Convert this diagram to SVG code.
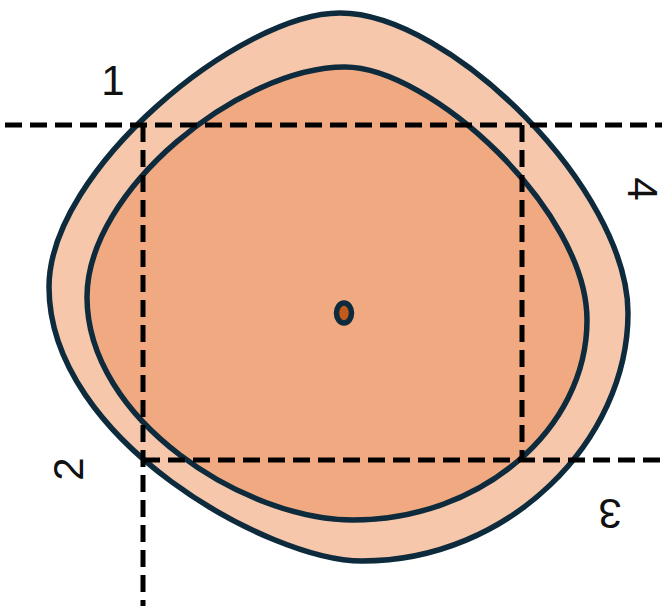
<svg xmlns="http://www.w3.org/2000/svg" width="668" height="611" viewBox="0 0 668 611">
  <style>
    .outline { stroke: #0D2B3C; stroke-width: 5.5; stroke-linejoin: round; }
    .dash { stroke: #000; stroke-width: 5; stroke-dasharray: 17 8; fill: none; }
    .lbl { font-family: "Liberation Sans", Arial, sans-serif; font-size: 42px; fill: #111; text-anchor: middle; }
  </style>
  <rect width="668" height="611" fill="#fff"/>
  <g id="outer-ring">
    <path class="outline" fill="#F6C7AB" d="M340,13 C450,13 628,190 628,313 C628,440 510,561 362,561 C270,561 49,440 49,287 C49,170 240,13 340,13 Z"/>
  </g>
  <g id="inner-region">
    <path class="outline" fill="#F1A982" d="M345,67 C430,67 587,210 587,320 C587,430 480,520 353,520 C245,520 87,420 87,297 C87,190 240,67 345,67 Z"/>
  </g>
  <g id="center-dot">
    <ellipse cx="344" cy="313" rx="7.5" ry="10" fill="#C4591C" class="outline"/>
  </g>
  <g id="connectors">
    <line class="dash" x1="5" y1="125" x2="662" y2="125"/>
    <line class="dash" x1="143" y1="460" x2="666" y2="460"/>
    <line class="dash" x1="143" y1="125" x2="143" y2="606"/>
    <line class="dash" x1="522" y1="125" x2="522" y2="460"/>
  </g>
  <g id="label-1"><text class="lbl" x="113" y="95">1</text></g>
  <g id="label-2"><text class="lbl" transform="translate(68,469) rotate(-90)" x="0" y="15">2</text></g>
  <g id="label-3"><text class="lbl" transform="translate(610,514) rotate(180)" x="0" y="15">3</text></g>
  <g id="label-4"><text class="lbl" transform="translate(643,189) rotate(90)" x="0" y="15">4</text></g>
</svg>
